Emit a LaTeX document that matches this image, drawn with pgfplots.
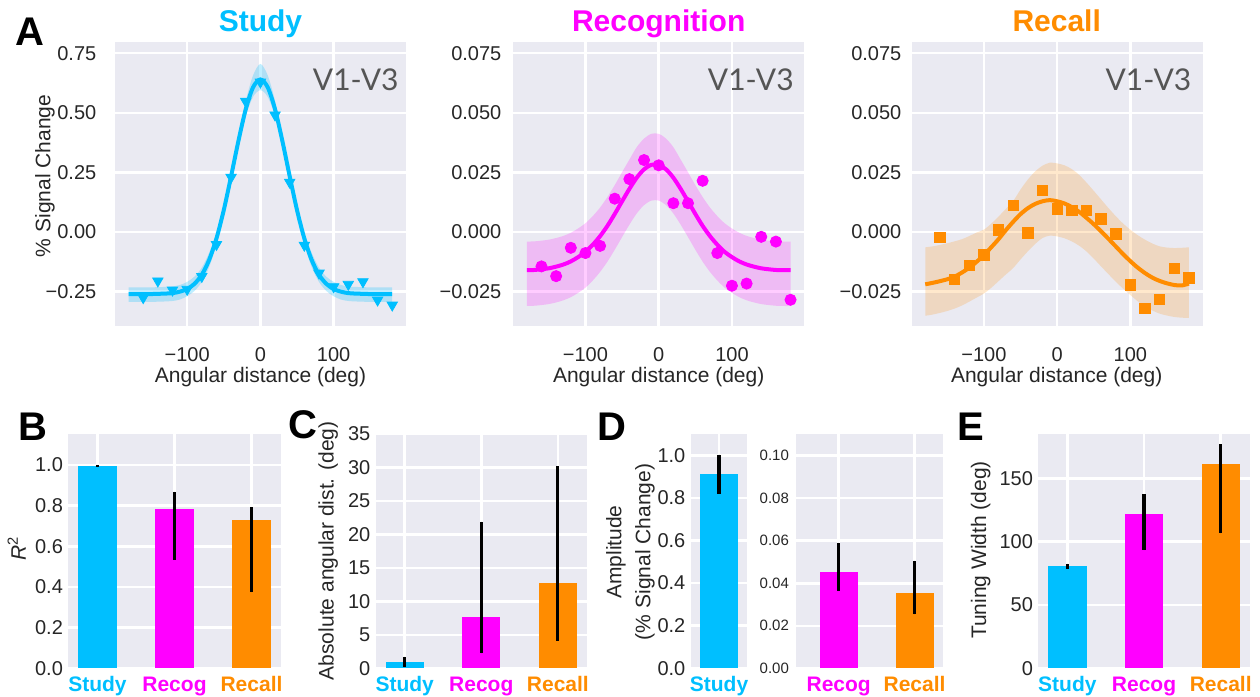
\documentclass[border=0pt]{standalone}
\usepackage{fontspec}
\setmainfont{Liberation Sans}
\newfontfamily\latofont{Lato}
\usepackage{pgfplots}
\pgfplotsset{compat=1.18}
\usepackage{pgfplotstable}
\usepgfplotslibrary{fillbetween}

\definecolor{bg}{HTML}{EAEAF2}
\definecolor{cS}{HTML}{00BFFF}
\definecolor{cR}{HTML}{FF00FF}
\definecolor{cC}{HTML}{FF8C00}
\definecolor{tk}{HTML}{262626}
\definecolor{vg}{HTML}{555555}

\pgfplotstableread{
x y lo hi
-180 -0.260 -0.293 -0.232
-170 -0.260 -0.293 -0.232
-160 -0.260 -0.293 -0.232
-150 -0.260 -0.293 -0.232
-140 -0.259 -0.292 -0.231
-130 -0.258 -0.291 -0.230
-120 -0.256 -0.289 -0.228
-110 -0.250 -0.283 -0.222
-100 -0.239 -0.269 -0.209
-90 -0.217 -0.247 -0.187
-80 -0.179 -0.209 -0.149
-70 -0.117 -0.147 -0.087
-60 -0.027 -0.052 -0.002
-50 0.092 0.067 0.117
-40 0.234 0.209 0.259
-30 0.382 0.357 0.407
-20 0.515 0.485 0.550
-10 0.607 0.567 0.657
0 0.640 0.595 0.705
10 0.607 0.567 0.657
20 0.515 0.485 0.550
30 0.382 0.357 0.407
40 0.234 0.209 0.259
50 0.092 0.067 0.117
60 -0.027 -0.052 -0.002
70 -0.117 -0.147 -0.087
80 -0.179 -0.209 -0.149
90 -0.217 -0.247 -0.187
100 -0.239 -0.269 -0.209
110 -0.250 -0.283 -0.222
120 -0.256 -0.289 -0.228
130 -0.258 -0.291 -0.230
140 -0.259 -0.292 -0.231
150 -0.260 -0.293 -0.232
160 -0.260 -0.293 -0.232
170 -0.260 -0.293 -0.232
180 -0.260 -0.293 -0.232
}\studycurve

\pgfplotstableread{
x y
-160 -0.275
-140 -0.205
-120 -0.243
-100 -0.240
-80 -0.186
-60 -0.052
-40 0.230
-20 0.548
0 0.629
20 0.491
40 0.209
60 -0.055
80 -0.172
100 -0.229
120 -0.219
140 -0.208
160 -0.285
180 -0.306
}\studypts

\pgfplotstableread{
x y lo hi
-180 -0.0160 -0.0310 -0.0040
-170 -0.0159 -0.0309 -0.0039
-160 -0.0156 -0.0306 -0.0036
-150 -0.0152 -0.0302 -0.0032
-140 -0.0145 -0.0295 -0.0025
-130 -0.0136 -0.0286 -0.0016
-120 -0.0123 -0.0273 -0.0003
-110 -0.0105 -0.0255 0.0015
-100 -0.0083 -0.0233 0.0037
-90 -0.0053 -0.0203 0.0067
-80 -0.0017 -0.0167 0.0103
-70 0.0026 -0.0124 0.0147
-60 0.0076 -0.0074 0.0197
-50 0.0129 -0.0021 0.0251
-40 0.0181 0.0031 0.0304
-30 0.0228 0.0078 0.0356
-20 0.0263 0.0113 0.0392
-10 0.0282 0.0132 0.0412
0 0.0282 0.0132 0.0412
10 0.0263 0.0113 0.0392
20 0.0228 0.0078 0.0356
30 0.0181 0.0031 0.0304
40 0.0129 -0.0021 0.0251
50 0.0076 -0.0074 0.0197
60 0.0026 -0.0124 0.0147
70 -0.0017 -0.0167 0.0103
80 -0.0053 -0.0203 0.0067
90 -0.0083 -0.0233 0.0037
100 -0.0105 -0.0255 0.0015
110 -0.0123 -0.0273 -0.0003
120 -0.0136 -0.0286 -0.0016
130 -0.0145 -0.0295 -0.0025
140 -0.0152 -0.0302 -0.0032
150 -0.0156 -0.0306 -0.0036
160 -0.0159 -0.0309 -0.0039
170 -0.0160 -0.0310 -0.0040
180 -0.0160 -0.0310 -0.0040
}\recogcurve

\pgfplotstableread{
x y
-160 -0.0144
-140 -0.0185
-120 -0.0066
-100 -0.0088
-80 -0.0058
-60 0.0140
-40 0.0222
-20 0.0302
0 0.0280
20 0.0121
40 0.0121
60 0.0215
80 -0.0088
100 -0.0225
120 -0.0216
140 -0.0020
160 -0.0040
180 -0.0284
}\recogpts

\pgfplotstableread{
x y lo hi
-180 -0.0219 -0.0351 -0.0064
-170 -0.0213 -0.0346 -0.0060
-160 -0.0206 -0.0339 -0.0054
-150 -0.0198 -0.0331 -0.0047
-140 -0.0187 -0.0321 -0.0039
-130 -0.0170 -0.0308 -0.0030
-120 -0.0150 -0.0292 -0.0017
-110 -0.0125 -0.0275 -0.0002
-100 -0.0097 -0.0258 0.0010
-90 -0.0064 -0.0234 0.0035
-80 -0.0030 -0.0206 0.0065
-70 0.0008 -0.0178 0.0097
-60 0.0043 -0.0151 0.0130
-50 0.0075 -0.0115 0.0178
-40 0.0100 -0.0081 0.0220
-30 0.0118 -0.0050 0.0254
-20 0.0129 -0.0025 0.0278
-10 0.0134 -0.0015 0.0291
0 0.0129 -0.0018 0.0288
10 0.0120 -0.0026 0.0280
20 0.0105 -0.0039 0.0264
30 0.0085 -0.0057 0.0240
40 0.0060 -0.0081 0.0208
50 0.0033 -0.0111 0.0173
60 0.0003 -0.0144 0.0137
70 -0.0028 -0.0176 0.0101
80 -0.0060 -0.0208 0.0067
90 -0.0092 -0.0237 0.0036
100 -0.0122 -0.0264 0.0010
110 -0.0149 -0.0290 -0.0013
120 -0.0172 -0.0313 -0.0032
130 -0.0191 -0.0329 -0.0048
140 -0.0205 -0.0342 -0.0060
150 -0.0215 -0.0350 -0.0065
160 -0.0222 -0.0356 -0.0067
170 -0.0224 -0.0359 -0.0066
180 -0.0216 -0.0360 -0.0064
}\recallcurve

\pgfplotstableread{
x y
-160 -0.0022
-140 -0.0199
-120 -0.0139
-100 -0.0096
-80 0.0009
-60 0.0111
-40 -0.0004
-20 0.0175
0 0.0097
20 0.0090
40 0.0092
60 0.0055
80 -0.0008
100 -0.0222
120 -0.0319
140 -0.0282
160 -0.0153
180 -0.0193
}\recallpts

\pgfplotsset{
  sea/.style={
    scale only axis, anchor=north west,
    axis background/.style={fill=bg},
    axis line style={draw=none},
    major tick length=0pt, minor tick length=0pt,
    tick style={draw=none},
    grid=major, grid style={white, line width=1.25pt},
    tick label style={text=tk},
    scaled ticks=false,
    /pgf/number format/assume math mode=true,
  },
  topax/.style={sea, width=145.4pt, height=142pt, xmin=-198.5, xmax=198.5,
    xtick={-100,0,100}, xticklabels={−100,0,100},
    xticklabel style={anchor=base, yshift=-17.85pt, inner sep=0pt, font=\fontsize{10}{12}\selectfont},
    yticklabel style={anchor=east, inner sep=0pt, font=\fontsize{10}{12}\selectfont},
  },
  smallax/.style={topax, ymin=-0.0394, ymax=0.0797,
    ytick={-0.025,0,0.025,0.05,0.075},
    yticklabels={−0.025,0.000,0.025,0.050,0.075},
  },
  botax/.style={sea, height=117.15pt, ymin=0,
    xtick={0,1,2},
    xticklabels={\textcolor{cS}{Study},\textcolor{cR}{Recog},\textcolor{cC}{Recall}},
    xticklabel style={anchor=base, yshift=-11.7pt, inner sep=0pt, font=\bfseries\fontsize{10.5}{12}\selectfont},
    yticklabel style={anchor=east, inner sep=0pt, xshift=-2.5pt, font=\fontsize{10}{12}\selectfont},
    xmin=-0.379, xmax=2.379,
  },
  bars/.style={ybar, bar width=0.5, bar shift=0pt, draw=none,
    error bars/y dir=both, error bars/y explicit,
    error bars/error mark=none,
    error bars/error bar style={line width=1.6pt, black}},
}

\begin{document}
\begin{tikzpicture}

% ---------- A: Study ----------
\begin{axis}[topax, at={(57.5pt,-21pt)}, ymin=-0.394, ymax=0.797,
  ytick={-0.25,0,0.25,0.5,0.75}, yticklabels={−0.25,0.00,0.25,0.50,0.75},
  yticklabel style={xshift=-9.15pt}]
  \addplot[name path=su, draw=none, smooth] table[x=x,y=hi]{\studycurve};
  \addplot[name path=sl, draw=none, smooth] table[x=x,y=lo]{\studycurve};
  \addplot[fill=cS, fill opacity=0.25, draw=none] fill between[of=su and sl];
  \addplot[cS, line width=2pt, smooth] table[x=x,y=y]{\studycurve};
  \addplot[only marks, mark=triangle*, mark size=3pt, mark options={rotate=180, fill=cS, draw=cS}] table[x=x,y=y]{\studypts};
\end{axis}

% ---------- A: Recognition ----------
\begin{axis}[smallax, at={(256.65pt,-21pt)}, yticklabel style={xshift=-5.8pt}]
  \addplot[name path=ru, draw=none, smooth] table[x=x,y=hi]{\recogcurve};
  \addplot[name path=rl, draw=none, smooth] table[x=x,y=lo]{\recogcurve};
  \addplot[fill=cR, fill opacity=0.2, draw=none] fill between[of=ru and rl];
  \addplot[cR, line width=2pt, smooth] table[x=x,y=y]{\recogcurve};
  \addplot[only marks, mark=*, mark size=2.8pt, mark options={fill=cR, draw=cR}] table[x=x,y=y]{\recogpts};
\end{axis}

% ---------- A: Recall ----------
\begin{axis}[smallax, at={(455.85pt,-21pt)}, yticklabel style={xshift=-5pt}]
  \addplot[name path=cu, draw=none, smooth] table[x=x,y=hi]{\recallcurve};
  \addplot[name path=cl, draw=none, smooth] table[x=x,y=lo]{\recallcurve};
  \addplot[fill=cC, fill opacity=0.2, draw=none] fill between[of=cu and cl];
  \addplot[cC, line width=2pt, smooth] table[x=x,y=y]{\recallcurve};
  \addplot[only marks, mark=square*, mark size=2.6pt, mark options={fill=cC, draw=cC}] table[x=x,y=y]{\recallpts};
\end{axis}

% ---------- B ----------
\begin{axis}[botax, at={(34.15pt,-217pt)}, width=106.2pt, ymax=1.152,
  ytick={0,0.2,0.4,0.6,0.8,1.0}, yticklabels={0.0,0.2,0.4,0.6,0.8,1.0}]
  \addplot[fill=cS, bars] coordinates {(0,0.995) += (0,0.003) -= (0,0.003)};
  \addplot[fill=cR, bars] coordinates {(1,0.782) += (0,0.087) -= (0,0.249)};
  \addplot[fill=cC, bars] coordinates {(2,0.730) += (0,0.062) -= (0,0.356)};
\end{axis}

% ---------- C ----------
\begin{axis}[botax, at={(187.85pt,-217pt)}, width=105.6pt, ymax=35,
  ytick={0,5,10,15,20,25,30,35}, yticklabels={0,5,10,15,20,25,30,35}]
  \addplot[fill=cS, bars] coordinates {(0,0.95) += (0,0.79) -= (0,0.70)};
  \addplot[fill=cR, bars] coordinates {(1,7.72) += (0,14.18) -= (0,5.48)};
  \addplot[fill=cC, bars] coordinates {(2,12.7) += (0,17.5) -= (0,8.58)};
\end{axis}

% ---------- D (study) ----------
\begin{axis}[botax, at={(345.35pt,-217pt)}, width=28.35pt, ymax=1.1,
  xmin=-0.365, xmax=0.365, xtick={0}, xticklabels={\textcolor{cS}{Study}},
  ytick={0,0.2,0.4,0.6,0.8,1.0}, yticklabels={0.0,0.2,0.4,0.6,0.8,1.0}]
  \addplot[fill=cS, bars] coordinates {(0,0.911) += (0,0.092) -= (0,0.091)};
\end{axis}

% ---------- D (recog / recall) ----------
\begin{axis}[botax, at={(397.85pt,-217pt)}, width=73.5pt, ymax=0.1102,
  xmin=-0.567, xmax=1.371, xtick={0,1},
  xticklabels={\textcolor{cR}{Recog},\textcolor{cC}{Recall}},
  ytick={0,0.02,0.04,0.06,0.08,0.1}, yticklabels={0.00,0.02,0.04,0.06,0.08,0.10},
  yticklabel style={font=\fontsize{7.5}{9}\selectfont, xshift=-0.7pt}]
  \addplot[fill=cR, bars] coordinates {(0,0.0453) += (0,0.0138) -= (0,0.0088)};
  \addplot[fill=cC, bars] coordinates {(1,0.0353) += (0,0.0153) -= (0,0.0099)};
\end{axis}

% ---------- E ----------
\begin{axis}[botax, at={(519.15pt,-217pt)}, width=105.75pt, ymax=185,
  ytick={0,50,100,150}, yticklabels={0,50,100,150}]
  \addplot[fill=cS, bars] coordinates {(0,80.5) += (0,2.1) -= (0,2.1)};
  \addplot[fill=cR, bars] coordinates {(1,122.1) += (0,15.3) -= (0,28.7)};
  \addplot[fill=cC, bars] coordinates {(2,161.3) += (0,15.5) -= (0,54.7)};
\end{axis}

% ---------- titles and labels ----------
\node[anchor=base, inner sep=0, font=\bfseries\fontsize{15}{18}\selectfont, text=cS] at (130.25pt,-15.85pt) {Study};
\node[anchor=base, inner sep=0, font=\bfseries\fontsize{15}{18}\selectfont, text=cR] at (329.35pt,-15.85pt) {Recognition};
\node[anchor=base, inner sep=0, font=\bfseries\fontsize{15}{18}\selectfont, text=cC] at (528.35pt,-15.85pt) {Recall};

\node[anchor=base east, inner sep=0, font=\latofont\fontsize{15}{18}\selectfont, text=vg] at (199.5pt,-45.35pt) {V1-V3};
\node[anchor=base east, inner sep=0, font=\latofont\fontsize{15}{18}\selectfont, text=vg] at (397pt,-45.35pt) {V1-V3};
\node[anchor=base east, inner sep=0, font=\latofont\fontsize{15}{18}\selectfont, text=vg] at (595.85pt,-45.35pt) {V1-V3};

\node[anchor=base, inner sep=0, font=\fontsize{10.5}{12.6}\selectfont, text=tk] at (130.25pt,-191.35pt) {Angular distance (deg)};
\node[anchor=base, inner sep=0, font=\fontsize{10.5}{12.6}\selectfont, text=tk] at (329.35pt,-191.35pt) {Angular distance (deg)};
\node[anchor=base, inner sep=0, font=\fontsize{10.5}{12.6}\selectfont, text=tk] at (528.35pt,-191.35pt) {Angular distance (deg)};

\node[rotate=90, inner sep=0, font=\fontsize{10.5}{12.6}\selectfont, text=tk] at (22.5pt,-88pt) {\% Signal Change};
\node[rotate=90, inner sep=0, font=\fontsize{10.5}{12.6}\selectfont, text=tk] at (8.35pt,-274pt) {{\itshape R}\textsuperscript{2}};
\node[rotate=90, inner sep=0, font=\fontsize{10.5}{12.6}\selectfont, text=tk] at (164.15pt,-275.4pt) {Absolute angular dist. (deg)};
\node[rotate=90, inner sep=0, align=center, font=\fontsize{10.5}{14.5}\selectfont, text=tk] at (315.2pt,-276pt) {Amplitude\\(\% Signal Change)};
\node[rotate=90, inner sep=0, font=\fontsize{10.5}{12.6}\selectfont, text=tk] at (490.4pt,-275pt) {Tuning Width (deg)};

\node[anchor=base west, inner sep=0, font=\bfseries\fontsize{20}{24}\selectfont] at (7.5pt,-22.5pt) {A};
\node[anchor=base west, inner sep=0, font=\bfseries\fontsize{20}{24}\selectfont] at (9.15pt,-220pt) {B};
\node[anchor=base west, inner sep=0, font=\bfseries\fontsize{20}{24}\selectfont] at (144.15pt,-219pt) {C};
\node[anchor=base west, inner sep=0, font=\bfseries\fontsize{20}{24}\selectfont] at (298.35pt,-220pt) {D};
\node[anchor=base west, inner sep=0, font=\bfseries\fontsize{20}{24}\selectfont] at (478.65pt,-220pt) {E};

\path (0pt,0pt) rectangle (630pt,-348pt);
\end{tikzpicture}
\end{document}
